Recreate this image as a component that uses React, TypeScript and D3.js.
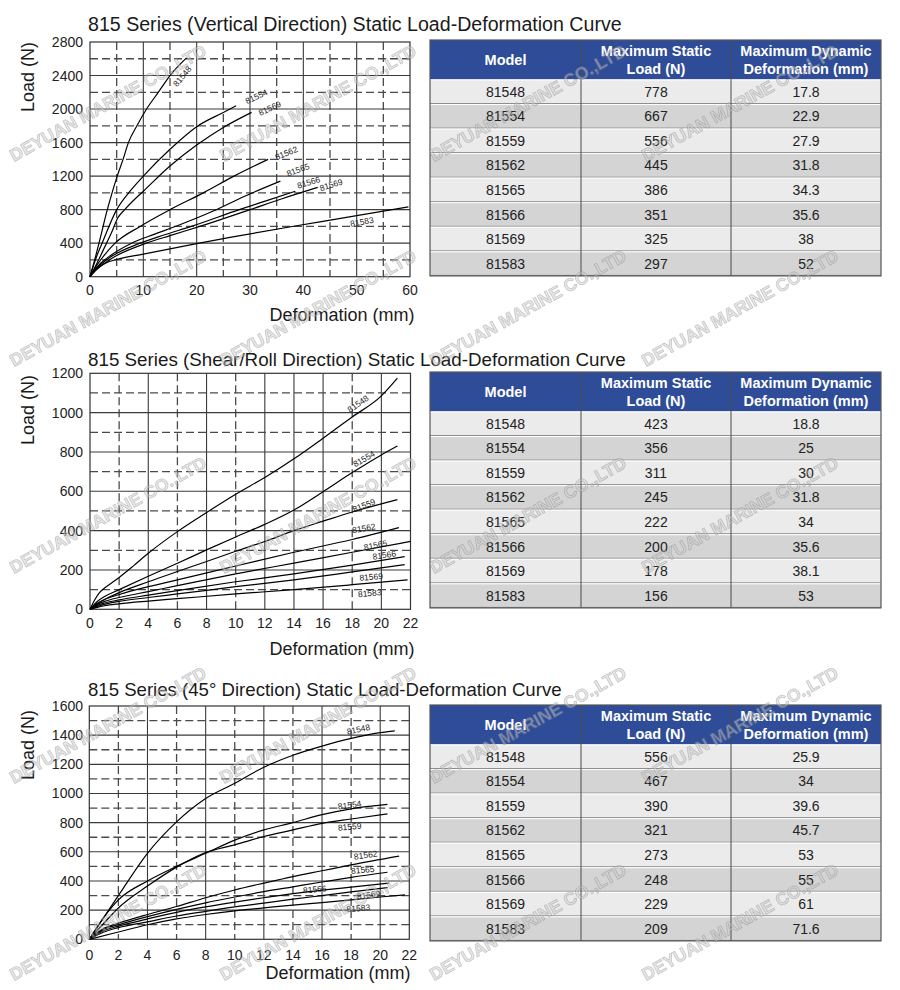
import React from 'react';
import * as d3 from 'd3';

type Pt = [number, number];

// ---------- DATA ----------
const models = ['81548', '81554', '81559', '81562', '81565', '81566', '81569', '81583'];
const verticalCurveNames = ['81548', '81554', '81569', '81562', '81565', '81566', '81569', '81583'];

const verticalCurves: Pt[][] = [
  [[0, 0], [1, 230], [2, 480], [3, 740], [4, 970], [5.1, 1200], [6.2, 1400], [7.2, 1600], [8.8, 1800], [10.6, 2000], [12.8, 2200], [15, 2400], [18.1, 2610]],
  [[0, 0], [1, 200], [2.4, 420], [5, 800], [7.5, 1020], [10, 1200], [15, 1520], [20, 1790], [25, 1960], [27.4, 2040]],
  [[0, 0], [1, 120], [2.5, 320], [4, 520], [5.2, 700], [6.5, 800], [8, 900], [10, 1020], [15, 1320], [20, 1570], [25, 1780], [30.3, 1960]],
  [[0, 0], [1, 110], [2, 200], [4.7, 400], [9.4, 600], [15, 800], [21.25, 1000], [27, 1200], [33.4, 1400]],
  [[0, 0], [1, 90], [2, 160], [4, 260], [7.8, 400], [12, 505], [16.25, 605], [23, 780], [29, 960], [35.7, 1140]],
  [[0, 0], [1, 80], [2, 145], [4, 240], [9.4, 400], [14, 500], [19, 600], [28, 800], [33, 905], [38.5, 1020]],
  [[0, 0], [1, 70], [2, 125], [4, 215], [10.6, 400], [15, 490], [20.6, 600], [30, 800], [36, 930], [42.7, 1065]],
  [[0, 0], [1, 80], [2, 130], [3, 165], [5, 205], [10, 270], [20, 395], [26.25, 469], [43.1, 655], [59.7, 834]],
];

const shearCurves: Pt[][] = [
  [[0, 0], [0.3, 45], [0.6, 80], [1, 108], [1.5, 135], [2, 162], [3, 222], [4, 285], [6, 395], [8, 492], [10, 585], [12, 670], [14, 765], [16, 870], [18, 978], [20, 1085], [21.1, 1175]],
  [[0, 0], [0.5, 40], [1, 65], [2, 100], [4, 168], [6, 234], [8, 302], [10, 368], [12, 432], [14, 505], [16, 598], [18, 695], [20, 785], [21.1, 830]],
  [[0, 0], [0.5, 30], [1, 50], [2, 85], [4, 140], [6, 192], [8, 243], [10, 295], [12, 345], [14, 400], [16, 448], [18, 495], [21.1, 558]],
  [[0, 0], [0.5, 30], [1, 50], [2, 75], [4, 115], [6, 150], [10, 220], [14, 290], [18, 355], [21.2, 415]],
  [[0, 0], [0.5, 25], [1, 40], [2, 60], [4, 90], [6, 120], [10, 180], [14, 235], [18, 290], [22, 345]],
  [[0, 0], [0.5, 20], [1, 32], [2, 48], [4, 72], [6, 95], [10, 140], [14, 180], [18, 225], [21.6, 268]],
  [[0, 0], [0.5, 15], [1, 25], [2, 40], [4, 60], [6, 78], [10, 115], [14, 150], [18, 190], [21.6, 227]],
  [[0, 0], [0.5, 10], [1, 18], [2, 28], [4, 42], [6, 54], [10, 78], [14, 100], [18, 125], [21.8, 150]],
];

const diagCurves: Pt[][] = [
  [[0, 0], [1, 150], [2, 300], [4, 590], [6, 805], [8, 965], [10, 1070], [12, 1180], [14, 1262], [16, 1325], [18, 1378], [20, 1417], [21, 1430]],
  [[0, 0], [1, 150], [2, 270], [4, 400], [6, 500], [8, 590], [10, 680], [12, 750], [14, 800], [16, 855], [18, 895], [20.5, 925]],
  [[0, 0], [1, 110], [2, 215], [4, 365], [6, 495], [8, 595], [10, 648], [12, 705], [14, 750], [16, 795], [18, 825], [20.5, 860]],
  [[0, 0], [1, 75], [2, 110], [4, 170], [6, 225], [8, 285], [10, 338], [12, 385], [14, 430], [16, 470], [18, 510], [21.3, 570]],
  [[0, 0], [1, 70], [2, 100], [4, 155], [6, 205], [8, 250], [10, 290], [12, 327], [14, 360], [16, 393], [18, 425], [20.5, 460]],
  [[0, 0], [1, 60], [2, 90], [4, 140], [6, 185], [8, 222], [10, 255], [12, 285], [14, 313], [16, 337], [18, 358], [20.6, 385]],
  [[0, 0], [1, 50], [2, 80], [4, 120], [6, 160], [8, 192], [10, 222], [12, 248], [14, 275], [16, 300], [18, 325], [20.5, 355]],
  [[0, 0], [2, 50], [4, 100], [6, 140], [8, 170], [10, 195], [12, 215], [14, 235], [16, 252], [18, 270], [20, 290], [21.7, 305]],
];

const verticalLoad = ['778', '667', '556', '445', '386', '351', '325', '297'];
const verticalDeform = ['17.8', '22.9', '27.9', '31.8', '34.3', '35.6', '38', '52'];
const shearLoad = ['423', '356', '311', '245', '222', '200', '178', '156'];
const shearDeform = ['18.8', '25', '30', '31.8', '34', '35.6', '38.1', '53'];
const diagLoad = ['556', '467', '390', '321', '273', '248', '229', '209'];
const diagDeform = ['25.9', '34', '39.6', '45.7', '53', '55', '61', '71.6'];

const verticalXTicks = [0, 10, 20, 30, 40, 50, 60];
const verticalYTicks = [0, 400, 800, 1200, 1600, 2000, 2400, 2800];
const smallXTicks = [0, 2, 4, 6, 8, 10, 12, 14, 16, 18, 20, 22];
const shearYTicks = [0, 200, 400, 600, 800, 1000, 1200];
const diagYTicks = [0, 200, 400, 600, 800, 1000, 1200, 1400, 1600];

const tableHeaders = [['Model'], ['Maximum Static', 'Load (N)'], ['Maximum Dynamic', 'Deformation (mm)']];

// ---------- LAYOUT (label anchors in data units + angle) ----------
const verticalLabelPos: [number, number, number][] = [
  [17.3, 2390, -50], [31.2, 2150, -25], [33.7, 2010, -25], [36.8, 1475, -22],
  [39.0, 1275, -20], [41.0, 1125, -17], [45.2, 1095, -17], [51.0, 655, -10],
];
const shearLabelPos: [number, number, number][] = [
  [18.4, 1045, -35], [18.8, 765, -30], [18.8, 528, -21], [18.8, 412, -10],
  [19.6, 326, -12], [20.2, 276, -8], [19.3, 165, -5], [19.2, 82, -5],
];
const diagLabelPos: [number, number, number][] = [
  [18.5, 1440, -12], [17.9, 921, -8], [17.9, 772, -5], [19.0, 578, -8],
  [18.8, 476, -5], [15.5, 343, -5], [19.2, 304, -8], [18.5, 213, -5],
];

const FONT = "'Liberation Sans', Arial, sans-serif";

interface ChartProps {
  title: string;
  titleY: number;
  titleSize: number;
  box: { x0: number; x1: number; y0: number; y1: number };
  xMax: number;
  yMax: number;
  xTicks: number[];
  yTicks: number[];
  xGridStep: number;
  xDashed: (v: number) => boolean;
  yGridStep: number;
  yDashed: (v: number) => boolean;
  curves: Pt[][];
  names: string[];
  labelPos: [number, number, number][];
  xTickY: number;
  xTitleX: number;
  xTitleY: number;
  yTitleY: number;
}

function Chart(p: ChartProps) {
  const x = d3.scaleLinear().domain([0, p.xMax]).range([p.box.x0, p.box.x1]);
  const y = d3.scaleLinear().domain([0, p.yMax]).range([p.box.y1, p.box.y0]);
  const line = d3.line<Pt>().x((d) => x(d[0])).y((d) => y(d[1])).curve(d3.curveMonotoneX);
  const xs = d3.range(p.xGridStep, p.xMax, p.xGridStep);
  const ys = d3.range(p.yGridStep, p.yMax, p.yGridStep);
  return (
    <g>
      <text x={88} y={p.titleY} fontFamily={FONT} fontSize={p.titleSize} fill="#1a1a1a">{p.title}</text>
      {xs.map((v) => (
        <line key={'gx' + v} x1={x(v)} x2={x(v)} y1={p.box.y0} y2={p.box.y1}
          stroke={p.xDashed(v) ? '#4a4a4a' : '#3a3a3a'} strokeWidth={p.xDashed(v) ? 1.3 : 1.1}
          strokeDasharray={p.xDashed(v) ? '8,4' : undefined} />
      ))}
      {ys.map((v) => (
        <line key={'gy' + v} x1={p.box.x0} x2={p.box.x1} y1={y(v)} y2={y(v)}
          stroke={p.yDashed(v) ? '#4a4a4a' : '#3a3a3a'} strokeWidth={p.yDashed(v) ? 1.3 : 1.1}
          strokeDasharray={p.yDashed(v) ? '8,4' : undefined} />
      ))}
      <rect x={p.box.x0} y={p.box.y0} width={p.box.x1 - p.box.x0} height={p.box.y1 - p.box.y0}
        fill="none" stroke="#333" strokeWidth={1.2} />
      {p.curves.map((c, i) => (
        <path key={'c' + i} d={line(c) || ''} fill="none" stroke="#000" strokeWidth={1.2} />
      ))}
      {p.labelPos.map((lp, i) => (
        <text key={'l' + i} x={x(lp[0])} y={y(lp[1])} fontFamily={FONT} fontSize={8.5} fill="#222"
          textAnchor="middle" dominantBaseline="central"
          transform={`rotate(${lp[2]},${x(lp[0])},${y(lp[1])})`}>{p.names[i]}</text>
      ))}
      {p.xTicks.map((v) => (
        <text key={'tx' + v} x={x(v)} y={p.xTickY} fontFamily={FONT} fontSize={14} fill="#222" textAnchor="middle">{v}</text>
      ))}
      {p.yTicks.map((v) => (
        <text key={'ty' + v} x={83} y={y(v) + 5} fontFamily={FONT} fontSize={14} fill="#222" textAnchor="end">{v}</text>
      ))}
      <text x={p.xTitleX} y={p.xTitleY} fontFamily={FONT} fontSize={18} fill="#1a1a1a" textAnchor="middle">Deformation (mm)</text>
      <text x={34} y={p.yTitleY} fontFamily={FONT} fontSize={18} fill="#1a1a1a" textAnchor="middle"
        transform={`rotate(-90,34,${p.yTitleY})`}>Load (N)</text>
    </g>
  );
}

function Table({ top, load, deform }: { top: number; load: string[]; deform: string[] }) {
  const colX = [430, 581, 731, 881];
  const headH = 39.5;
  const rowH = 24.55;
  const rows = d3.range(models.length);
  const bodyTop = top + headH;
  const bottom = bodyTop + rowH * models.length;
  return (
    <g fontFamily={FONT}>
      <rect x={colX[0]} y={top} width={colX[3] - colX[0]} height={headH} fill="#2E4C98" />
      {rows.map((r) => (
        <g key={r}>
          <rect x={colX[0]} y={bodyTop + r * rowH} width={colX[3] - colX[0]} height={rowH}
            fill={r % 2 === 0 ? '#EBEBEB' : '#D4D4D4'} />
          <line x1={colX[0]} x2={colX[3]} y1={bodyTop + r * rowH + 0.5} y2={bodyTop + r * rowH + 0.5} stroke="#fff" strokeWidth={1} />
          <line x1={colX[0]} x2={colX[3]} y1={bodyTop + (r + 1) * rowH - 0.5} y2={bodyTop + (r + 1) * rowH - 0.5} stroke="#8a8a8a" strokeWidth={1} />
        </g>
      ))}
      {[1, 2].map((c) => (
        <line key={c} x1={colX[c]} x2={colX[c]} y1={top} y2={bottom} stroke="#4a4a4a" strokeWidth={1} />
      ))}
      <rect x={colX[0]} y={top} width={colX[3] - colX[0]} height={bottom - top} fill="none" stroke="#555" strokeWidth={1.2} />
      {tableHeaders.map((h, c) => {
        const cx = (colX[c] + colX[c + 1]) / 2;
        const cy = top + headH / 2;
        return h.length === 1 ? (
          <text key={c} x={cx} y={cy + 5} textAnchor="middle" fontWeight="bold" fontSize={14.5} fill="#fff">{h[0]}</text>
        ) : (
          <g key={c}>
            <text x={cx} y={cy - 4} textAnchor="middle" fontWeight="bold" fontSize={14.5} fill="#fff">{h[0]}</text>
            <text x={cx} y={cy + 14} textAnchor="middle" fontWeight="bold" fontSize={14.5} fill="#fff">{h[1]}</text>
          </g>
        );
      })}
      {rows.map((r) => {
        const cy = bodyTop + r * rowH + rowH / 2 + 5;
        const vals = [models[r], load[r], deform[r]];
        return vals.map((v, c) => (
          <text key={r + '-' + c} x={(colX[c] + colX[c + 1]) / 2} y={cy} textAnchor="middle" fontSize={14} fill="#222">{v}</text>
        ));
      })}
    </g>
  );
}

const wmX = [108, 318, 528, 740];
const wmY = [103, 308, 515, 725, 922];

export default function App() {
  return (
    <svg width={900} height={990} style={{ position: 'absolute', left: 0, top: 0, background: '#fff' }}>
      <rect x={0} y={0} width={900} height={990} fill="#fff" />
      <Chart title="815 Series (Vertical Direction) Static Load-Deformation Curve" titleY={30.5} titleSize={19.6}
        box={{ x0: 90, x1: 410, y0: 42, y1: 276.7 }} xMax={60} yMax={2800}
        xTicks={verticalXTicks} yTicks={verticalYTicks}
        xGridStep={5} xDashed={(v) => v % 10 !== 0} yGridStep={200} yDashed={(v) => v % 400 !== 0}
        curves={verticalCurves} names={verticalCurveNames} labelPos={verticalLabelPos}
        xTickY={295} xTitleX={342} xTitleY={321} yTitleY={77} />
      <Chart title="815 Series (Shear/Roll Direction) Static Load-Deformation Curve" titleY={366} titleSize={18.8}
        box={{ x0: 90, x1: 410.5, y0: 373.3, y1: 609.3 }} xMax={22} yMax={1200}
        xTicks={smallXTicks} yTicks={shearYTicks}
        xGridStep={2} xDashed={(v) => [2, 6, 10, 18].includes(v)} yGridStep={100} yDashed={(v) => v % 200 !== 0}
        curves={shearCurves} names={models} labelPos={shearLabelPos}
        xTickY={628} xTitleX={342} xTitleY={655} yTitleY={410} />
      <Chart title="815 Series (45° Direction) Static Load-Deformation Curve" titleY={696} titleSize={18.6}
        box={{ x0: 89.3, x1: 409.3, y0: 706, y1: 939.3 }} xMax={22} yMax={1600}
        xTicks={smallXTicks} yTicks={diagYTicks}
        xGridStep={2} xDashed={(v) => v % 4 !== 0} yGridStep={100} yDashed={(v) => v % 200 !== 0}
        curves={diagCurves} names={models} labelPos={diagLabelPos}
        xTickY={960} xTitleX={338} xTitleY={979} yTitleY={745} />
      <Table top={40} load={verticalLoad} deform={verticalDeform} />
      <Table top={372} load={shearLoad} deform={shearDeform} />
      <Table top={705} load={diagLoad} deform={diagDeform} />
      <g opacity={0.5} pointerEvents="none">
        {wmY.map((wy) => wmX.map((wx) => (
          <text key={wx + '-' + wy} x={wx} y={wy} textAnchor="middle" dominantBaseline="central"
            fontFamily={FONT} fontWeight="bold" fontSize={17.5} fill="#cfcfcf" stroke="#8f8f8f" strokeWidth={0.8}
            transform={`rotate(-29,${wx},${wy})`}>DEYUAN MARINE CO.,LTD</text>
        )))}
      </g>
    </svg>
  );
}
